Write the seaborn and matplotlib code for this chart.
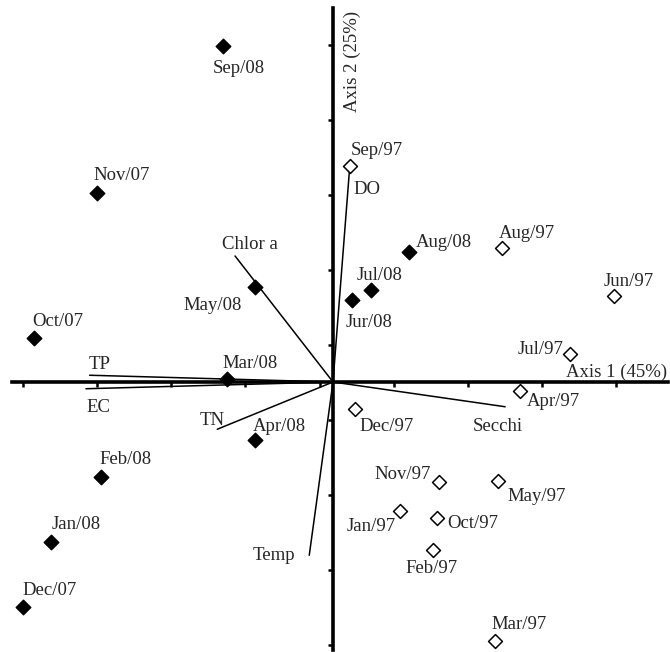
import numpy as np
import pandas as pd
import seaborn as sns
import matplotlib.pyplot as plt

## PCA scores, 2007/08 samples (filled diamonds)
months_08 = ["Sep/08", "Nov/07", "Oct/07", "May/08", "Aug/08", "Jul/08",
             "Jur/08", "Mar/08", "Apr/08", "Feb/08", "Jan/08", "Dec/07"]
axis1_08 = [-1.48, -3.18, -4.03, -1.05, 1.02, 0.51, 0.26, -1.43, -1.05, -3.13, -3.80, -4.18]
axis2_08 = [4.48, 2.52, 0.59, 1.27, 1.73, 1.23, 1.09, 0.04, -0.77, -1.27, -2.13, -3.00]

## PCA scores, 1997 samples (open diamonds)
months_97 = ["Sep/97", "Aug/97", "Jun/97", "Jul/97", "Apr/97", "Dec/97",
             "Nov/97", "May/97", "Jan/97", "Oct/97", "Feb/97", "Mar/97"]
axis1_97 = [0.23, 2.28, 3.79, 3.19, 2.52, 0.30, 1.43, 2.22, 0.90, 1.40, 1.35, 2.18]
axis2_97 = [2.88, 1.79, 1.15, 0.37, -0.12, -0.36, -1.33, -1.32, -1.72, -1.81, -2.24, -3.45]

## variable loadings (vector tips)
variables = ["DO", "Chlor a", "TP", "EC", "TN", "Temp", "Secchi"]
load_axis1 = [0.22, -1.32, -3.28, -3.33, -1.56, -0.32, 2.32]
load_axis2 = [2.80, 1.68, 0.09, -0.09, -0.63, -2.31, -0.33]

# label offsets in pixels
offsets_08 = [(16, -21), (25, 19), (24, 18), (-42, -17), (35, 12), (9, 16),
              (17, -20), (23, 17), (24, 15), (25, 20), (25, 19), (27, 18)]
offsets_97 = [(27, 17), (25, 16), (14, 16), (-29, 7), (33, -9), (31, -16),
              (-36, 9), (39, -14), (-29, -14), (36, -4), (-2, -17), (24, 18)]
offsets_var = [(18, -16), (15, 13), (10, 13), (13, -17), (-5, 11), (-35, 2), (-7, -18)]

df_08 = pd.DataFrame({"axis1": axis1_08, "axis2": axis2_08, "month": months_08})
df_97 = pd.DataFrame({"axis1": axis1_97, "axis2": axis2_97, "month": months_97})

sns.set_style("white")
plt.rcParams["font.family"] = ["Liberation Serif", "DejaVu Serif"]
fs = 13.5

fig = plt.figure(figsize=(6.7, 6.52), dpi=100)
ax = fig.add_axes([0, 0, 1, 1])

# variable vectors
for name, vx, vy, off in zip(variables, load_axis1, load_axis2, offsets_var):
    ax.plot([0, vx], [0, vy], color="black", lw=1.1, zorder=2)
    ax.annotate(name, (vx, vy), xytext=off, textcoords="offset pixels",
                ha="center", va="center_baseline", fontsize=fs)

sns.scatterplot(data=df_08, x="axis1", y="axis2", marker="D", s=55,
                color="black", edgecolor="black", linewidth=1, ax=ax, zorder=3)
sns.scatterplot(data=df_97, x="axis1", y="axis2", marker="D", s=50,
                color="white", edgecolor="black", linewidth=1.1, ax=ax, zorder=3)

for df, offs in [(df_08, offsets_08), (df_97, offsets_97)]:
    for (_, r), off in zip(df.iterrows(), offs):
        ax.annotate(r["month"], (r["axis1"], r["axis2"]), xytext=off,
                    textcoords="offset pixels", ha="center",
                    va="center_baseline", fontsize=fs)

ax.set_xlim(-4.488, 4.542)
ax.set_ylim(-3.6, 5.093)
ax.set_xlabel("")
ax.set_ylabel("")

# axes through the origin
for side in ["top", "right"]:
    ax.spines[side].set_visible(False)
ax.spines["left"].set_position(("data", 0))
ax.spines["bottom"].set_position(("data", 0))
ax.spines["left"].set_bounds(-3.57, 4.99)
ax.spines["bottom"].set_bounds(-4.33, 4.51)
for side in ["left", "bottom"]:
    ax.spines[side].set_linewidth(2.6)
    ax.spines[side].set_color("black")
    ax.spines[side].set_zorder(2.5)

ax.set_xticks(np.arange(-4.18, 4.0, 1.0))
ax.set_yticks(np.arange(4.49, -3.6, -1.0))
ax.tick_params(bottom=True, left=True, direction="out", length=3.5, width=1.8,
               color="black", labelbottom=False, labelleft=False)

ax.text(0.26, 4.27, "Axis 2 (25%)", rotation=90, ha="center", va="center", fontsize=fs)
ax.text(3.82, 0.16, "Axis 1 (45%)", ha="center", va="center_baseline", fontsize=fs)

plt.savefig("out.png", dpi=100)
